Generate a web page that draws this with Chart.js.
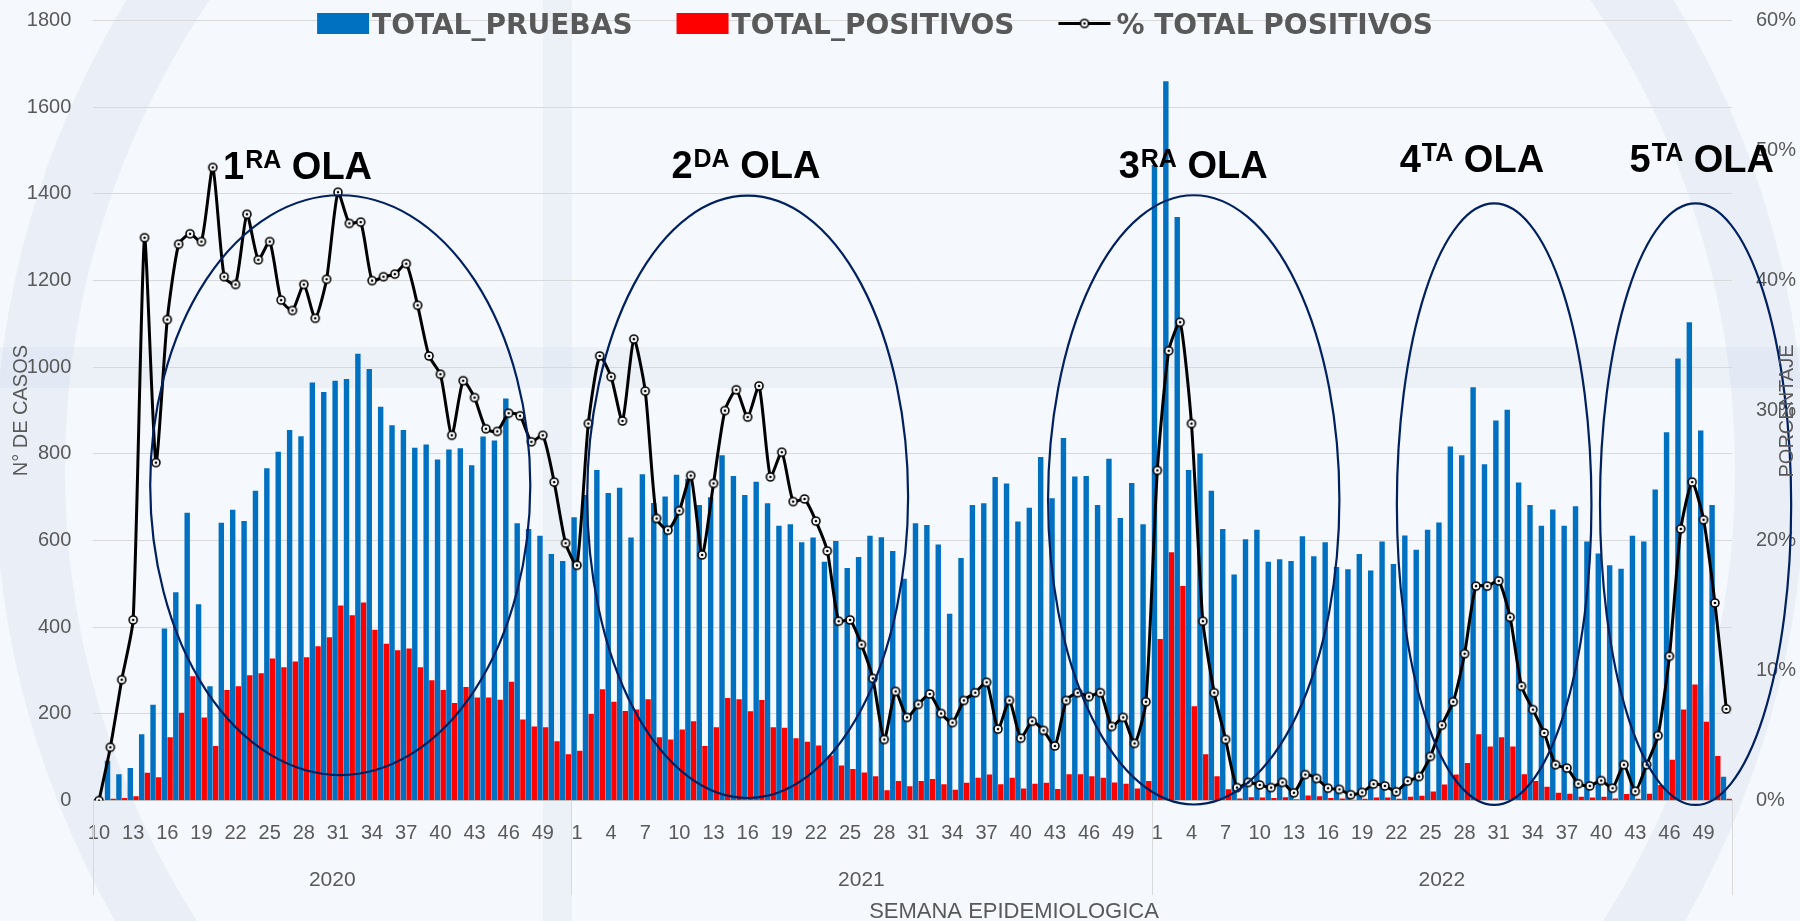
<!DOCTYPE html>
<html>
<head>
<meta charset="utf-8">
<script src="https://cdn.jsdelivr.net/npm/chart.js@4.4.1/dist/chart.umd.min.js"></script>
<style>
html,body{margin:0;padding:0;background:#f5f8fc;overflow:hidden}
#wrap{width:1800px;height:921px;position:relative}
canvas{display:block}
</style>
</head>
<body>
<div id="wrap"><canvas id="c" width="1800" height="921"></canvas></div>
<script>
// ---------------- DATA ----------------
const YEARS = ['2020', '2021', '2022'];
const FIRST_WEEK = [10, 1, 1];
const LAST_WEEK = [51, 51, 51];

const TOTAL_PRUEBAS = [
  // 2020 (weeks 10-51)
  3, 92, 61, 75, 153, 221, 397, 481, 664, 453, 264, 641, 671, 645, 715, 767, 805, 855, 841, 965, 943,
  969, 973, 1031, 996, 909, 866, 855, 814, 822, 787, 810, 813, 774, 840, 831, 928, 640, 627, 611, 569, 553,
  // 2021 (weeks 1-51)
  654, 705, 763, 710, 722, 607, 753, 687, 702, 752, 743, 682, 700, 797, 749, 705, 736, 686, 634, 638, 596,
  607, 551, 599, 537, 562, 611, 608, 576, 512, 640, 636, 591, 431, 560, 682, 686, 747, 732, 644, 676, 793,
  698, 837, 748, 749, 682, 789, 652, 733, 638,
  // 2022 (weeks 1-51)
  1467, 1660, 1347, 763, 801, 715, 627, 522, 603, 625, 551, 557, 553, 610, 564, 596, 539, 534, 569, 531, 598,
  546, 612, 579, 625, 642, 817, 797, 954, 776, 877, 902, 734, 682, 634, 672, 634, 679, 598, 570, 543, 535,
  611, 598, 718, 850, 1020, 1104, 854, 682, 55
];

const TOTAL_POSITIVOS = [
  0, 4, 6, 10, 64, 54, 146, 203, 287, 192, 126, 255, 264, 289, 294, 328, 308, 321, 331, 356, 377,
  450, 428, 457, 394, 362, 347, 351, 308, 278, 255, 225, 262, 238, 238, 233, 274, 187, 171, 169, 137, 107,
  115, 200, 257, 228, 207, 210, 234, 146, 141, 164, 183, 126, 169, 237, 234, 206, 232, 169, 168, 144, 136,
  127, 104, 81, 73, 65, 56, 24, 45, 33, 45, 50, 38, 25, 41, 53, 60, 38, 53, 28, 39, 41,
  27, 61, 61, 56, 53, 42, 39, 28, 45,
  373, 573, 495, 218, 107, 56, 26, 5, 8, 7, 6, 8, 3, 12, 10, 6, 5, 2, 4, 7, 7,
  4, 9, 11, 21, 37, 60, 87, 153, 125, 146, 125, 61, 45, 32, 18, 16, 9, 7, 9, 5, 15,
  4, 16, 36, 94, 210, 268, 182, 103, 4
];

const PCT_POSITIVOS = [
  0, 4.1, 9.3, 13.9, 43.3, 26.0, 37.0, 42.8, 43.6, 43.0, 48.7, 40.3, 39.7, 45.1, 41.6, 43.0, 38.5, 37.7, 39.7, 37.1, 40.1,
  46.8, 44.4, 44.5, 40.0, 40.3, 40.5, 41.3, 38.1, 34.2, 32.8, 28.1, 32.3, 31.0, 28.6, 28.4, 29.8, 29.6, 27.6, 28.1, 24.5, 19.8,
  18.1, 29.0, 34.2, 32.6, 29.2, 35.5, 31.5, 21.7, 20.8, 22.3, 25.0, 18.9, 24.4, 30.0, 31.6, 29.5, 31.9, 24.9, 26.8, 23.0, 23.2,
  21.5, 19.2, 13.8, 13.9, 12.0, 9.4, 4.7, 8.4, 6.4, 7.4, 8.2, 6.7, 6.0, 7.7, 8.3, 9.1, 5.5, 7.7, 4.8, 6.1, 5.4,
  4.2, 7.7, 8.3, 8.0, 8.3, 5.7, 6.4, 4.4, 7.6,
  25.4, 34.6, 36.8, 29.0, 13.8, 8.3, 4.7, 1.0, 1.4, 1.2, 1.0, 1.4, 0.6, 2.0, 1.7, 0.95, 0.86, 0.45, 0.63, 1.27, 1.13,
  0.68, 1.5, 1.85, 3.4, 5.8, 7.6, 11.3, 16.5, 16.5, 16.9, 14.1, 8.8, 7.0, 5.2, 2.76, 2.5, 1.3, 1.13, 1.54, 0.95, 2.76,
  0.72, 2.76, 5.0, 11.1, 20.9, 24.5, 21.6, 15.2, 7.05
];

const LEFT_AXIS = {min: 0, max: 1800, step: 200};
const RIGHT_AXIS = {min: 0, max: 60, step: 10};

// Wave annotations (in data units: x = category index, y = cases)
const OLA_NUM = ['1', '2', '3', '4', '5'];
const OLA_SUP = ['RA', 'DA', 'RA', 'TA', 'TA'];
const OLA_TEXT_X = [10.9, 50.3, 89.6, 114.3, 134.5];
const OLA_TEXT_Y = [1434, 1437, 1437, 1451, 1451];
const OLA_CX = [21.2, 57.0, 96.2, 122.6, 140.3];
const OLA_CY = [728, 701, 694, 684, 684];
const OLA_RX = [16.7, 14.1, 12.8, 8.55, 8.4];
const OLA_RY = [669, 695, 703, 694, 694];

// -------------- build categories --------------
const WEEK_NUMBERS = [];
const WEEK_YEAR = [];
YEARS.forEach((y, g) => {
  for (let w = FIRST_WEEK[g]; w <= LAST_WEEK[g]; w++) { WEEK_NUMBERS.push(w); WEEK_YEAR.push(y); }
});
const LABELS = WEEK_NUMBERS.map(w => String(w));

// -------------- styles --------------
const GRAY_TEXT = '#595959';
const FONT = '"Liberation Sans", Arial, sans-serif';
Chart.defaults.font.family = FONT;
Chart.defaults.color = GRAY_TEXT;

function makeMarker() {
  const c = document.createElement('canvas');
  c.width = 12; c.height = 12;
  const g = c.getContext('2d');
  g.beginPath(); g.arc(6, 6, 4, 0, Math.PI * 2);
  g.fillStyle = '#ffffff'; g.fill();
  g.lineWidth = 1.6; g.strokeStyle = '#000'; g.stroke();
  g.beginPath(); g.arc(6, 6, 1.3, 0, Math.PI * 2);
  g.fillStyle = '#000'; g.fill();
  return c;
}
const MARKER = makeMarker();

// -------------- plugins --------------
const backgroundPlugin = {
  id: 'bgWatermark',
  beforeDraw(chart) {
    const {ctx, width, height} = chart;
    ctx.save();
    ctx.fillStyle = '#f5f8fc';
    ctx.fillRect(0, 0, width, height);
    ctx.strokeStyle = 'rgba(190,207,232,0.20)';
    ctx.fillStyle = 'rgba(190,207,232,0.16)';
    ctx.lineWidth = 70;
    ctx.beginPath(); ctx.arc(900, 470, 870, 0, Math.PI * 2); ctx.stroke();
    ctx.fillRect(0, 347, width, 41);
    ctx.fillRect(543, 0, 29, height);
    ctx.restore();
  }
};

const annotationPlugin = {
  id: 'olas',
  afterDatasetsDraw(chart) {
    const {ctx, scales: {x, y}} = chart;
    ctx.save();
    ctx.strokeStyle = '#002060';
    ctx.lineWidth = 2.2;
    for (let i = 0; i < OLA_CX.length; i++) {
      const cx = x.getPixelForValue(OLA_CX[i]);
      const rx = Math.abs(x.getPixelForValue(OLA_CX[i] + OLA_RX[i]) - cx);
      const cy = y.getPixelForValue(OLA_CY[i]);
      const ry = Math.abs(y.getPixelForValue(OLA_CY[i] + OLA_RY[i]) - cy);
      ctx.beginPath();
      ctx.ellipse(cx, cy, rx, ry, 0, 0, Math.PI * 2);
      ctx.stroke();
    }
    ctx.fillStyle = '#000';
    ctx.textBaseline = 'alphabetic';
    ctx.textAlign = 'left';
    const big = 'bold 38px ' + FONT, small = 'bold 25px ' + FONT;
    for (let i = 0; i < OLA_NUM.length; i++) {
      let px = x.getPixelForValue(OLA_TEXT_X[i]);
      const py = y.getPixelForValue(OLA_TEXT_Y[i]);
      ctx.font = big; ctx.fillText(OLA_NUM[i], px, py); px += ctx.measureText(OLA_NUM[i]).width + 1;
      ctx.font = small; ctx.fillText(OLA_SUP[i], px, py - 11); px += ctx.measureText(OLA_SUP[i]).width;
      ctx.font = big; px += ctx.measureText(' ').width; ctx.fillText('OLA', px, py);
    }
    ctx.restore();
  }
};

const LEGEND_CENTER_X = 875, LEGEND_BASELINE = 34, LEGEND_BOX_W = 52, LEGEND_BOX_H = 21, LEGEND_GAP = 44;
const extrasPlugin = {
  id: 'extras',
  afterDraw(chart) {
    const {ctx, scales: {x}, chartArea} = chart;
    ctx.save();
    // ---- legend ----
    ctx.font = 'bold 28px "DejaVu Sans", ' + FONT;
    ctx.textBaseline = 'alphabetic';
    ctx.textAlign = 'left';
    const ds = chart.data.datasets;
    const items = ds.map(d => ({text: d.label, type: d.type || 'bar', color: d.backgroundColor}));
    const widths = items.map(it => LEGEND_BOX_W + (it.type === 'line' ? 6 : 3) + ctx.measureText(it.text).width);
    const total = widths.reduce((a, b) => a + b, 0) + LEGEND_GAP * (items.length - 1);
    let lx = LEGEND_CENTER_X - total / 2;
    const midY = LEGEND_BASELINE - LEGEND_BOX_H / 2;
    items.forEach((it, i) => {
      if (it.type === 'line') {
        ctx.strokeStyle = '#000'; ctx.lineWidth = 3;
        ctx.beginPath(); ctx.moveTo(lx, midY); ctx.lineTo(lx + LEGEND_BOX_W, midY); ctx.stroke();
        ctx.drawImage(MARKER, lx + LEGEND_BOX_W / 2 - 6, midY - 6);
        ctx.fillStyle = GRAY_TEXT;
        ctx.fillText(it.text, lx + LEGEND_BOX_W + 6, LEGEND_BASELINE);
      } else {
        ctx.fillStyle = it.color;
        ctx.fillRect(lx, LEGEND_BASELINE - LEGEND_BOX_H, LEGEND_BOX_W, LEGEND_BOX_H);
        ctx.fillStyle = GRAY_TEXT;
        ctx.fillText(it.text, lx + LEGEND_BOX_W + 3, LEGEND_BASELINE);
      }
      lx += widths[i] + LEGEND_GAP;
    });

    // ---- year groups & separators ----
    const half = (x.getPixelForValue(1) - x.getPixelForValue(0)) / 2;
    ctx.strokeStyle = '#d9d9d9'; ctx.lineWidth = 1;
    ctx.font = '21px ' + FONT; ctx.fillStyle = GRAY_TEXT;
    ctx.textAlign = 'center'; ctx.textBaseline = 'middle';
    let start = 0;
    YEARS.forEach((yr, g) => {
      const n = LAST_WEEK[g] - FIRST_WEEK[g] + 1;
      const x0 = x.getPixelForValue(start) - half;
      const x1 = x.getPixelForValue(start + n - 1) + half;
      ctx.beginPath(); ctx.moveTo(Math.round(x0) + 0.5, chartArea.bottom); ctx.lineTo(Math.round(x0) + 0.5, 895); ctx.stroke();
      if (g === YEARS.length - 1) {
        ctx.beginPath(); ctx.moveTo(Math.round(x1) + 0.5, chartArea.bottom); ctx.lineTo(Math.round(x1) + 0.5, 895); ctx.stroke();
      }
      ctx.fillText(yr, (x0 + x1) / 2, 880);
      start += n;
    });

    // ---- axis titles drawn manually ----
    ctx.font = '22px ' + FONT; ctx.textBaseline = 'alphabetic';
    ctx.fillText('SEMANA EPIDEMIOLOGICA', 1014, 918);
    ctx.save();
    ctx.translate(1787, 411); ctx.rotate(-Math.PI / 2);
    ctx.font = '20px ' + FONT; ctx.textBaseline = 'middle'; ctx.textAlign = 'center';
    ctx.fillText('PORCENTAJE', 0, 0);
    ctx.restore();
    ctx.restore();
  }
};

// -------------- chart --------------
const ctx = document.getElementById('c').getContext('2d');
new Chart(ctx, {
  type: 'bar',
  data: {
    labels: LABELS,
    datasets: [
      {
        type: 'bar', label: 'TOTAL_PRUEBAS', data: TOTAL_PRUEBAS, yAxisID: 'y',
        backgroundColor: '#0070c0', borderWidth: 0, categoryPercentage: 1.0, barPercentage: 0.95, order: 2
      },
      {
        type: 'bar', label: 'TOTAL_POSITIVOS', data: TOTAL_POSITIVOS, yAxisID: 'y',
        backgroundColor: '#ff0000', borderWidth: 0, categoryPercentage: 1.0, barPercentage: 0.95, order: 2
      },
      {
        type: 'line', label: '% TOTAL POSITIVOS', data: PCT_POSITIVOS, yAxisID: 'y1',
        borderColor: '#000000', backgroundColor: '#000000', borderWidth: 3, tension: 0.2,
        pointStyle: MARKER, pointRadius: 4, pointHoverRadius: 4, fill: false, order: 0
      }
    ]
  },
  options: {
    responsive: false,
    animation: false,
    devicePixelRatio: 1,
    layout: {padding: {top: 20.6, left: 0, right: 0, bottom: 0}},
    plugins: {
      legend: {display: false},
      tooltip: {enabled: false},
      title: {display: false}
    },
    scales: {
      x: {
        type: 'category', offset: true,
        grid: {display: false, drawTicks: false},
        border: {display: true, color: '#bfbfbf', width: 1},
        ticks: {
          autoSkip: false, maxRotation: 0, minRotation: 0, padding: 21,
          color: GRAY_TEXT, font: {size: 20},
          callback: function (value, index) {
            const w = WEEK_NUMBERS[index];
            return ((w - 1) % 3 === 0) ? String(w) : '';
          }
        },
        afterFit(s) { s.height = 120.4; }
      },
      y: {
        position: 'left', min: LEFT_AXIS.min, max: LEFT_AXIS.max,
        ticks: {stepSize: LEFT_AXIS.step, padding: 22, color: GRAY_TEXT, font: {size: 20}, callback: v => String(v)},
        grid: {color: '#d9d9d9', drawTicks: false, lineWidth: 1},
        border: {display: false},
        title: {display: true, text: 'N° DE CASOS', color: GRAY_TEXT, font: {size: 20}, padding: {top: 9, bottom: 0}},
        afterFit(s) { s.width = 93.3; s.paddingTop = 0; }
      },
      y1: {
        position: 'right', min: RIGHT_AXIS.min, max: RIGHT_AXIS.max,
        ticks: {stepSize: RIGHT_AXIS.step, padding: 24, color: GRAY_TEXT, font: {size: 20}, callback: v => v + '%'},
        grid: {display: false, drawTicks: false},
        border: {display: false},
        afterFit(s) { s.width = 68; s.paddingTop = 0; }
      }
    }
  },
  plugins: [backgroundPlugin, annotationPlugin, extrasPlugin]
});
</script>
</body>
</html>
